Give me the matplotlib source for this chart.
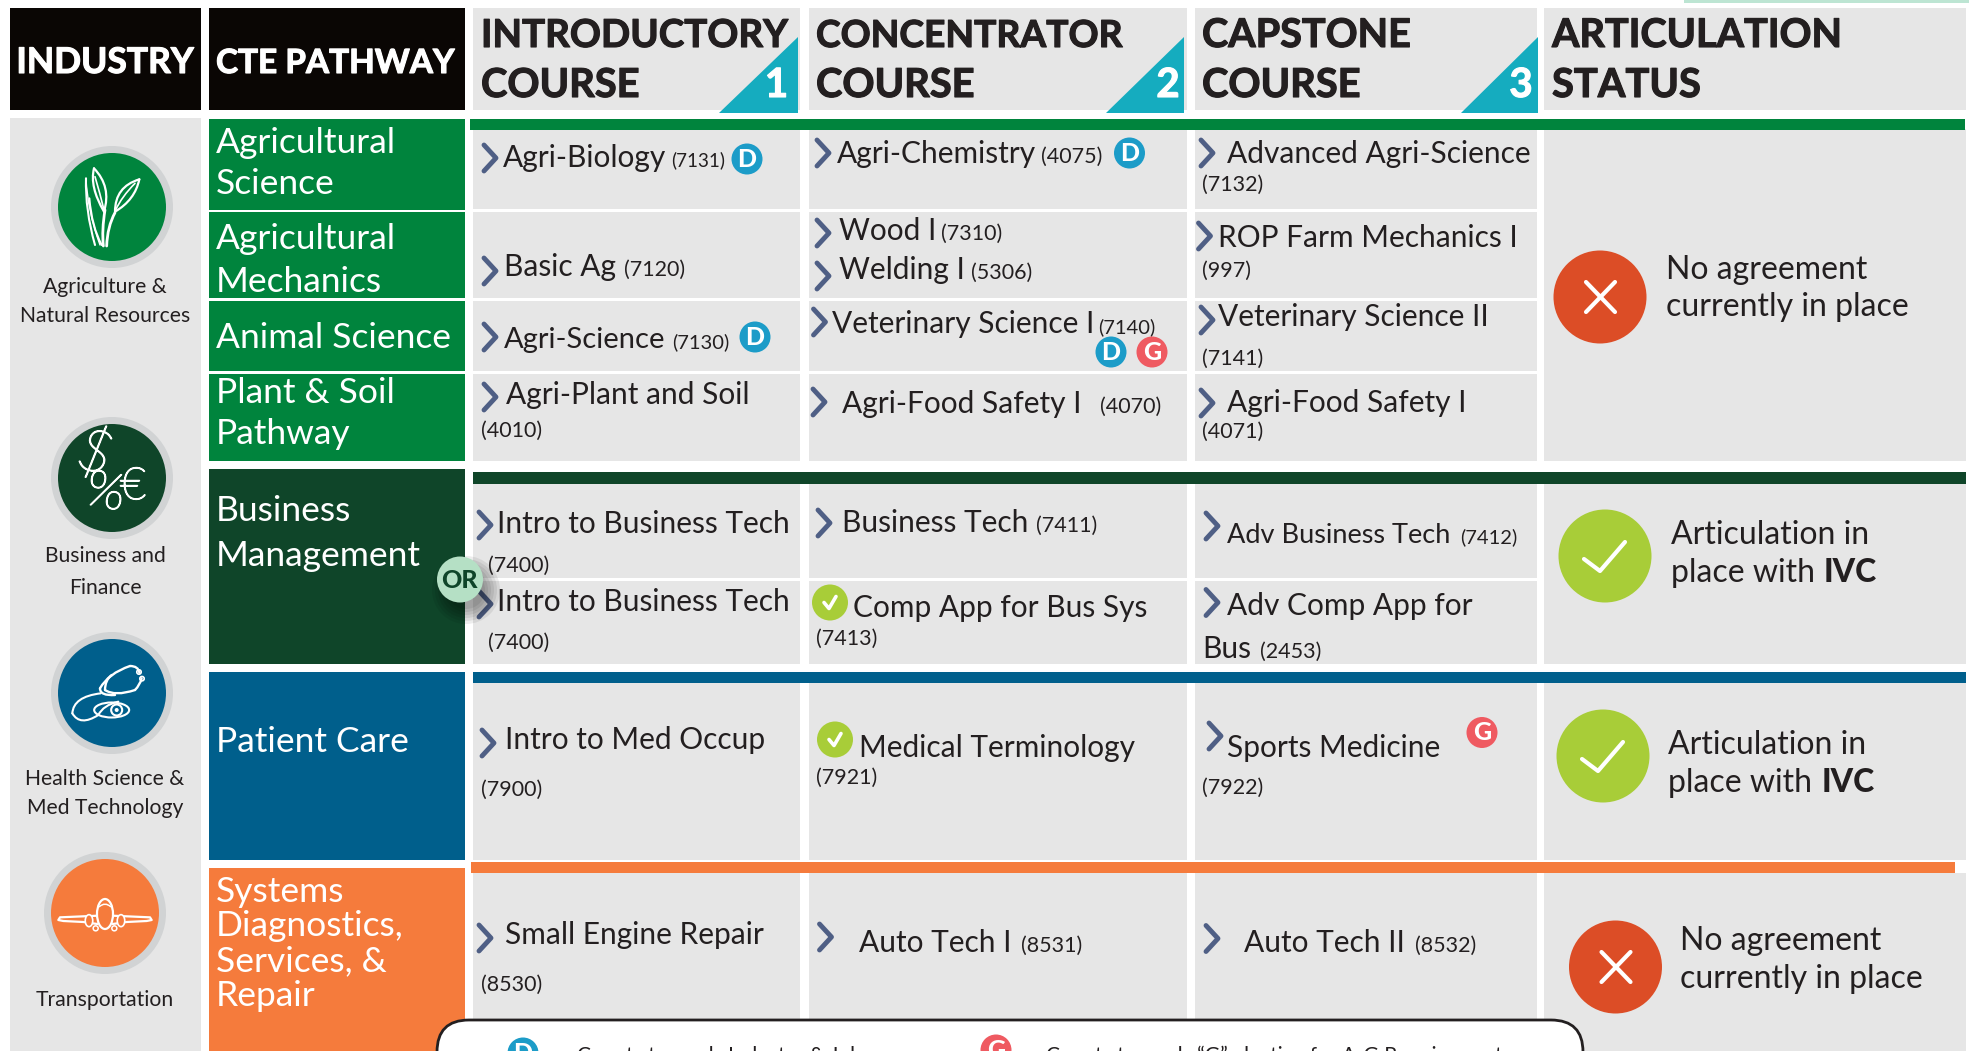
import matplotlib
matplotlib.use("Agg")
import matplotlib.pyplot as plt
import matplotlib.patheffects as pe
from matplotlib.patches import Rectangle, Circle, Polygon, FancyBboxPatch, PathPatch, Ellipse
from matplotlib.path import Path
from matplotlib.lines import Line2D

plt.rcParams['font.family'] = ['Lato', 'DejaVu Sans']

# ---------- content ----------
headers_dark = ["INDUSTRY", "CTE PATHWAY"]
headers_course = [["INTRODUCTORY", "COURSE"], ["CONCENTRATOR", "COURSE"], ["CAPSTONE", "COURSE"], ["ARTICULATION", "STATUS"]]
step_numbers = ["1", "2", "3"]
industries = [["Agriculture &", "Natural Resources"], ["Business and", "Finance"],
              ["Health Science &", "Med Technology"], ["Transportation"]]
pathways = [["Agricultural", "Science"], ["Agricultural", "Mechanics"], ["Animal Science"], ["Plant & Soil", "Pathway"],
            ["Business", "Management"], ["Patient Care"],
            ["Systems", "Diagnostics,", "Services, &", "Repair"]]
course_names = ["Agri-Biology", "Basic Ag", "Agri-Science", "Agri-Plant and Soil",
                "Intro to Business Tech", "Intro to Business Tech", "Intro to Med Occup", "Small Engine Repair",
                "Agri-Chemistry", "Wood I", "Welding I", "Veterinary Science I", "Agri-Food Safety I",
                "Business Tech", "Comp App for Bus Sys", "Medical Terminology", "Auto Tech I",
                "Advanced Agri-Science", "ROP Farm Mechanics I", "Veterinary Science II", "Agri-Food Safety I",
                "Adv Business Tech", "Adv Comp App for", "Sports Medicine", "Auto Tech II"]
course_codes = ["(7131)", "(7120)", "(7130)", "(4010)",
                "(7400)", "(7400)", "(7900)", "(8530)",
                "(4075)", "(7310)", "(5306)", "(7140)", "(4070)",
                "(7411)", "(7413)", "(7921)", "(8531)",
                "(7132)", "(997)", "(7141)", "(4071)",
                "(7412)", "(2453)", "(7922)", "(8532)"]
status_no = ["No agreement", "currently in place"]
status_yes = ["Articulation in", "place with ", "IVC"]
legend_text = ["Counts towards Industry & Job", "Counts towards \u201cG\u201d elective for A-G Requirements"]

# ---------- styles ----------
GREY, INK, CHEV = "#e6e6e6", "#231f20", "#4f5f85"
GREEN, DGREEN, BLUE, ORANGE = "#00843d", "#0f4529", "#005f8c", "#f57b3c"
TEAL, DBLUE, GRED, OK, NO = "#15acbf", "#1c9cc8", "#ef5a61", "#a8cd38", "#dc4d26"
RING = "#d1d3d4"
NAME, CODE, PATH, STAT = 21.5, 15.5, 25.5, 23
NAME_SIZE_BY_INDEX = {2: 21, 21: 19.5}
CODE_SIZE_BY_INDEX = {0: 13.5, 2: 14.5, 11: 14.5, 21: 14.5}

fig = plt.figure(figsize=(19.69, 10.51), dpi=100, facecolor='white')
ax = fig.add_axes([0, 0, 1, 1])
ax.set_xlim(0, 1969)
ax.set_ylim(1051, 0)
ax.axis('off')


def rect(x0, y0, x1, y1, c, z=1):
    ax.add_patch(Rectangle((x0, y0), x1 - x0, y1 - y0, fc=c, ec='none', zorder=z))


def txt(x, y, s, size, color=INK, ha='left', weight='normal', z=5, **kw):
    return ax.text(x, y, s, fontsize=size, color=color, ha=ha, va='baseline',
                   fontweight=weight, zorder=z, **kw)


def heavy(x, y, s, size, color, ha='left', amount=0.8):
    t = txt(x, y, s, size, color, ha, 'bold')
    t.set_path_effects([pe.withStroke(linewidth=amount, foreground=color)])
    return t


def curve(pts, c='white', lw=1.3, z=6, fill=None):
    codes = [Path.MOVETO] + [Path.CURVE3] * (len(pts) - 1)
    ax.add_patch(PathPatch(Path(pts, codes), fc=fill or 'none', ec=c, lw=lw, zorder=z, capstyle='round'))


def poly(xs, ys, c='white', lw=1.3, z=6):
    ax.add_line(Line2D(xs, ys, color=c, lw=lw, zorder=z, solid_capstyle='round', solid_joinstyle='round'))


def chevron(cx, cy):
    poly([cx - 6, cx + 6, cx - 6], [cy - 13, cy, cy + 13], CHEV, 3.5, 4)


def badge(cx, cy, letter, c, z=6):
    ax.add_patch(Circle((cx, cy), 15.5, fc=c, ec='none', zorder=z))
    ax.text(cx, cy + 0.5, letter, fontsize=18, fontweight='black', color='white', ha='center', va='center', zorder=z + 1)


def tick_badge(cx, cy):
    ax.add_patch(Circle((cx, cy), 18, fc=OK, ec='none', zorder=6))
    poly([cx - 6, cx - 1, cx + 6], [cy + 0, cy + 6, cy - 6], 'white', 2.6, 7)


# ---------- backgrounds ----------
rect(1684, 0, 1969, 3, "#bde5d3")
rect(10, 8, 200.5, 110, "#0a0604")
rect(209, 8, 465, 110, "#0a0604")
col_x = [(473, 800), (809, 1187), (1195, 1537), (1544, 1966)]
for a, b in col_x:
    rect(a, 8, b, 110, GREY)
rect(10, 118, 200.5, 1051, GREY)

# body cells per section: row spans, then a coloured bar on top
section_rows = [[(129, 209), (212, 298), (301, 371), (374, 461)],
                [(483, 577.5), (580.5, 664)],
                [(682, 859.5)],
                [(873, 1051)]]
section_bar = [(470, 119, 1965, 129.5, GREEN), (473, 472, 1966, 483.5, DGREEN),
               (473, 672, 1966, 682.5, BLUE), (471, 862, 1955, 873, ORANGE)]
for rows, (bx0, by0, bx1, by1, c) in zip(section_rows, section_bar):
    for a, b in col_x[:3]:
        for y0, y1 in rows:
            rect(a, y0, b, y1, GREY)
    rect(col_x[3][0], rows[0][0], col_x[3][1], rows[-1][1], GREY)
    rect(bx0, by0, bx1, by1, c, 2)

# pathway blocks
path_blocks = [(118.5, 209.5, GREEN), (212, 298, GREEN), (301, 371, GREEN), (374, 461, GREEN),
               (469, 664, DGREEN), (672, 859.5, BLUE), (868, 1051, ORANGE)]
for y0, y1, c in path_blocks:
    rect(209, y0, 465, y1, c)

# ---------- headers ----------
heavy(105, 73, headers_dark[0], 25.5, 'white', 'center')
heavy(216, 73, headers_dark[1], 24, 'white')
head_x = [481, 816, 1202, 1552]
head_size = [[27.7, 28.7], [26.8, 28.7], [28.5, 28.7], [28.5, 28.7]]
for x, (l1, l2), (s1, s2) in zip(head_x, headers_course, head_size):
    heavy(x, 47, l1, s1, INK)
    heavy(x, 97, l2, s2, INK)
tri_x = [(719, 798), (1106, 1184), (1461, 1538)]
num_x = [776.5, 1168, 1521]
for (x0, x1), nx, n in zip(tri_x, num_x, step_numbers):
    ax.add_patch(Polygon([(x0, 113), (x1, 37), (x1, 113)], fc=TEAL, ec='none', zorder=3))
    heavy(nx, 97, n, 29, 'white', 'center')

# ---------- industry icons ----------
icon_xy = [(112, 207), (112, 478), (112, 693), (105, 913)]
icon_c = [GREEN, DGREEN, BLUE, ORANGE]
for (x, y), c in zip(icon_xy, icon_c):
    ax.add_patch(Circle((x, y), 61, fc=RING, ec='none', zorder=2))
    ax.add_patch(Circle((x, y), 54, fc=c, ec='none', zorder=3))

# wheat
cx, cy = icon_xy[0]
def W(u, v):
    return (cx + (u - 186) / 3, cy + (v - 231) / 3)
curve([W(108, 145), W(105, 240), W(135, 345)], lw=1.5)
curve([W(118, 205), W(125, 290), W(155, 345)], lw=1.5)
curve([W(108, 145), W(112, 240), W(150, 345)], lw=1.0)
curve([W(165, 240), W(155, 300), W(160, 348)], lw=2)
curve([W(195, 248), W(172, 290), W(170, 348)], lw=2)
curve([W(132, 115), W(118, 170), W(162, 245)], lw=1.6)
curve([W(132, 115), W(185, 170), W(162, 245)], lw=1.6)
curve([W(135, 140), W(150, 190), W(162, 240)], lw=1.2)
curve([W(268, 148), W(195, 170), W(195, 245)], lw=1.6)
curve([W(268, 148), W(255, 210), W(195, 245)], lw=1.6)
curve([W(255, 160), W(215, 200), W(197, 240)], lw=1.2)

# currency symbols (thin face, thickened slightly)
for x, y, s, size, rot in [(89, 470, "$", 42, -20), (103, 507, "%", 36, -10), (133, 499, "\u20ac", 32, 0)]:
    t = txt(x, y, s, size, 'white', 'center', 'light', z=6, rotation=rot, rotation_mode='anchor')
    t.set_path_effects([pe.withStroke(linewidth=1.1, foreground='white')])

# stethoscope
cx, cy = 40, 630
def S(u, v):
    return (cx + u / 3, cy + v / 3)
curve([S(182, 190), S(100, 200), S(97, 250)], lw=1.5)
curve([S(97, 250), S(120, 290), S(175, 255)], lw=1.5)
curve([S(175, 255), S(190, 225), S(235, 215)], lw=1.5)
curve([S(180, 175), S(205, 130), S(270, 108)], lw=1.7)
curve([S(270, 108), S(295, 108), S(298, 128)], lw=1.7)
curve([S(195, 180), S(225, 200), S(285, 180)], lw=1.7)
curve([S(285, 180), S(300, 165), S(305, 145)], lw=1.7)
curve([S(180, 175), S(180, 198), S(225, 195)], lw=1.7)
curve([S(195, 180), S(195, 150), S(215, 135)], lw=1.7)
ax.add_patch(Ellipse(S(215, 240), 35, 15, angle=0, fc='none', ec='white', lw=1.5, zorder=6))
ax.add_patch(Circle(S(230, 240), 5.5, fc='none', ec='white', lw=1.5, zorder=6))
ax.add_patch(Circle(S(230, 240), 2, fc='white', ec='none', zorder=6))
ax.add_patch(Circle(S(297, 126), 2.2, fc='none', ec='white', lw=1.2, zorder=6))
ax.add_patch(Circle(S(306, 146), 2.2, fc='none', ec='white', lw=1.2, zorder=6))

# plane
cx, cy = 40, 850
def P(u, v):
    return (cx + u / 3, cy + v / 3)
for m in (1, -1):
    def Q(u, v):
        return P(195 + m * (u - 195), v)
    xs, ys = zip(*[Q(175, 197), Q(60, 202), Q(55, 210), Q(70, 213), Q(130, 216), Q(172, 222)])
    poly(list(xs), list(ys), lw=1.6)
    ax.add_patch(Ellipse(Q(147, 212), 7.5, 12, fc=icon_c[3], ec='white', lw=1.2, zorder=6))
    ax.add_patch(Circle(Q(167, 235), 2.5, fc='none', ec='white', lw=1.1, zorder=6))
ax.add_patch(Ellipse(P(195, 192), 16, 30, fc=icon_c[3], ec='white', lw=1.6, zorder=7))
curve([P(178, 170), P(195, 155), P(212, 170)], lw=1.1, z=8)

# industry captions
caption_y = [[293, 322], [562.5, 594], [785, 814], [1006.5]]
for lines, ys in zip(industries, caption_y):
    for s, y in zip(lines, ys):
        txt(105, y, s, 15.2, ha='center')

# ---------- pathway text ----------
path_y = [[153, 194], [249, 292], [348], [403, 444], [521, 566.5], [752], [902, 936, 971, 1006]]
for lines, ys in zip(pathways, path_y):
    for s, y in zip(lines, ys):
        txt(216, y, s, PATH, 'white')

# ---------- course cells ----------
# name x, name baseline, code x, code baseline, chevron x, chevron y (None = no chevron)
cell_pos = [
    (502.5, 166.5, 671, 166.5, 490, 158), (504, 276, 624, 276, 490, 271), (504, 348, 672, 348, 490, 337),
    (506.5, 404, 481, 437, 490, 397),
    (497, 533, 488, 571.5, 485, 525), (497, 611, 488, 648.5, 485, 604), (505, 749, 481, 796, 488, 743),
    (505, 944, 481, 991, 485, 938),
    (837, 163, 1041.5, 163, 823, 153), (839, 240, 941.5, 240, 823, 233), (839, 279, 971, 279, 823, 276),
    (831.5, 333, 1098, 333, 819.5, 322), (842, 413, 1100, 413, 819, 402),
    (842, 531.5, 1036, 531.5, 824, 523), (853, 617.5, 816, 644.5, None, None), (859, 757.5, 816, 784, None, None),
    (859, 952, 1021, 952, 825.5, 937),
    (1227, 163, 1202, 191, 1207, 153), (1218, 247, 1202, 277, 1204.5, 236), (1218, 326, 1202, 365, 1207, 320),
    (1227, 412, 1202, 438, 1207, 403),
    (1227, 543, 1460, 543, 1212, 526), (1227, 615.5, 1260, 658, 1212, 602.5), (1227, 757, 1202, 793.5, 1215, 736),
    (1244, 952, 1415, 952, 1212, 938.5),
]
for i, (name, code, (nx, ny, cdx, cdy, chx, chy)) in enumerate(zip(course_names, course_codes, cell_pos)):
    txt(nx, ny, name, NAME_SIZE_BY_INDEX.get(i, NAME))
    txt(cdx, cdy, code, CODE_SIZE_BY_INDEX.get(i, CODE))
    if chx is not None:
        chevron(chx, chy)
txt(1202, 658, "Bus", NAME)

for x, y, l, c in [(747, 159, "D", DBLUE), (755, 337, "D", DBLUE), (1129.5, 153, "D", DBLUE),
                   (1111, 352, "D", DBLUE), (1152, 352, "G", GRED), (1482, 732.5, "G", GRED)]:
    badge(x, y, l, c)
tick_badge(830, 602.5)
tick_badge(835, 739.5)

# ---------- OR marker ----------
for r in range(34, 18, -3):
    ax.add_patch(Circle((466, 590), r, fc='black', ec='none', alpha=0.07, zorder=4.5))
ax.add_patch(Circle((460, 579.5), 23, fc="#b5e0c5", ec='none', zorder=7))
txt(459, 588, "OR", 18, DGREEN, 'center', 'black', z=8)

# ---------- status ----------
for (cx, cy) in [(1600, 297), (1615.5, 967)]:
    ax.add_patch(Circle((cx, cy), 46.5, fc=NO, ec='none', zorder=3))
    poly([cx - 14, cx + 15], [cy - 15, cy + 15], 'white', 3, 4)
    poly([cx + 15, cx - 14], [cy - 15, cy + 15], 'white', 3, 4)
for (cx, cy) in [(1605, 556), (1603, 756)]:
    ax.add_patch(Circle((cx, cy), 46.5, fc=OK, ec='none', zorder=3))
    poly([cx - 21, cx - 5, cx + 20], [cy + 3, cy + 15, cy - 14], 'white', 3, 4)

for x, y1, y2 in [(1665.5, 279, 316), (1680.5, 950, 988)]:
    txt(x, y1, status_no[0], STAT)
    txt(x, y2, status_no[1], STAT)
for x, y1, y2, ix in [(1671, 544, 582.5, 1824), (1668, 753.5, 792.5, 1822)]:
    txt(x, y1, status_yes[0], STAT)
    txt(x, y2, status_yes[1], STAT)
    txt(ix, y2, status_yes[2], STAT, weight='black')

# ---------- legend box ----------
ax.add_patch(FancyBboxPatch((437, 1020), 1146, 120, boxstyle="round,pad=0,rounding_size=32",
                            fc='white', ec=INK, lw=2, zorder=8))
for x, y, l, c in [(523, 1053, "D", DBLUE), (996, 1050, "G", GRED)]:
    badge(x, y, l, c, 9)
txt(577, 1062, legend_text[0], 15, z=9)
txt(1046, 1062, legend_text[1], 15, z=9)

fig.savefig("out.png", dpi=100, facecolor='white')
